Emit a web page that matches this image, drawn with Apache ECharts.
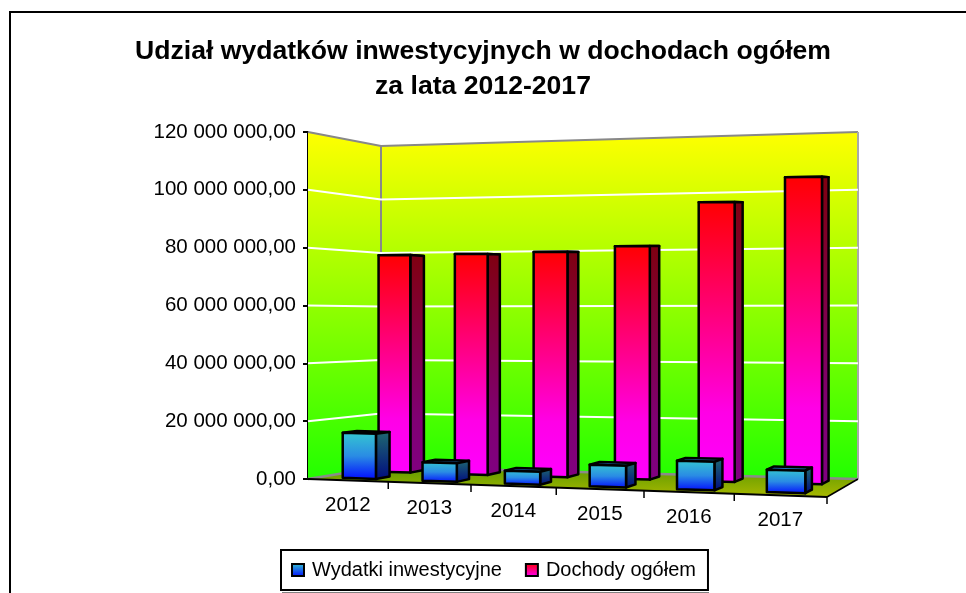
<!DOCTYPE html>
<html>
<head>
<meta charset="utf-8">
<title>Udział wydatków inwestycyjnych w dochodach ogółem</title>
<script src="https://cdn.jsdelivr.net/npm/echarts@6/dist/echarts.min.js"></script>
<style>
  html, body { margin: 0; padding: 0; background: #fff; }
  #chart { width: 966px; height: 593px; }
</style>
</head>
<body>
<div id="chart"></div>
<script>
const years = ['2012', '2013', '2014', '2015', '2016', '2017'];
const wydatki = [15700000, 6400000, 4400000, 7300000, 9500000, 7400000];
const dochody = [78500000, 78800000, 79400000, 81300000, 96300000, 104500000];
const yTicks = [20000000, 40000000, 60000000, 80000000, 100000000];

const FONT = '"Liberation Sans", Arial, sans-serif';
const LinearGradient = echarts.graphic.LinearGradient;

// the picture is an Excel 3D chart: flat grid position (t along the categories, v up the
// value axis) plus a depth d (0 front, 1 back wall) goes through this to screen pixels
function screenX(t, d) {
  return 308 + 73 * d + (474 - 42 * d) * t + 45 * t * t;
}
function screenY(t, d) {
  return 479 + 18 * t - 12 * d - 6 * t * d;
}
function heightAt(t, d) {
  return 347 * (1 - t) * (1 - d) + 369 * t * (1 - d) + 321 * (1 - t) * d + 347 * t * d;
}
function project(cs, gx, gy, d) {
  const t = (gx - cs.x) / cs.width;
  const v = (cs.y + cs.height - gy) / cs.height;
  return [screenX(t, d), screenY(t, d) - v * heightAt(t, d)];
}
function corner(cs, t, v, d) {
  return project(cs, cs.x + t * cs.width, cs.y + cs.height - v * cs.height, d);
}
function vGrad(stops) {
  return new LinearGradient(0, 0, 0, 1, stops.map((c) => ({ offset: c[0], color: c[1] })));
}
function poly(points, style) {
  return { type: 'polygon', shape: { points }, style };
}
function line(points, stroke, lineWidth) {
  return { type: 'polyline', shape: { points }, style: { stroke, lineWidth, fill: 'none' } };
}

function renderWalls(params) {
  const cs = params.coordSys;
  const wall = vGrad([[0, '#ffff00'], [1, '#22ff00']]);
  const fl = corner(cs, 0, 0, 0), fr = corner(cs, 1, 0, 0);
  const bl = corner(cs, 0, 0, 1), br = corner(cs, 1, 0, 1);
  const tl = corner(cs, 0, 1, 0), tb = corner(cs, 0, 1, 1), tr = corner(cs, 1, 1, 1);
  const children = [
    poly([fl, bl, tb, tl], { fill: wall }),
    poly([bl, br, tr, tb], { fill: wall }),
    poly([fl, fr, br, bl], { fill: vGrad([[0, '#5c9a00'], [1, '#a8b800']]) }),
    line([bl, br], '#8a8a8a', 2.5),
    line([fl, bl], '#8a8a8a', 2.5),
    line([tl, tb, tr], '#888888', 2),
    line([tb, bl], '#888888', 2),
    line([tr, br], '#a8a8a8', 2),
    line([fl, fr], '#000000', 2),
    line([fr, br], '#000000', 1.5),
  ];
  // ticks along the sloped front edge, one per category boundary
  for (let i = 1; i <= years.length; i++) {
    const p = corner(cs, i / years.length, 0, 0);
    children.push(line([p, [p[0], p[1] + 7]], '#000000', 1.5));
  }
  return { type: 'group', children };
}

function renderGrid(params, api) {
  const cs = params.coordSys;
  const gy = api.coord([0, api.value(0)])[1];
  return line([
    project(cs, cs.x, gy, 0),
    project(cs, cs.x, gy, 1),
    project(cs, cs.x + cs.width, gy, 1),
  ], '#ffffff', 2);
}

function barRenderer(d1, d2, colors) {
  return function (params, api) {
    const cs = params.coordSys;
    const i = api.value(0);
    const base = api.coord([i, 0]);
    const top = api.coord([i, api.value(1)]);
    const half = api.size([1, 0])[0] * 0.21;
    const lx = base[0] - half, rx = base[0] + half;
    const a = project(cs, lx, base[1], d1), b = project(cs, rx, base[1], d1);
    const c = project(cs, rx, top[1], d1), e = project(cs, lx, top[1], d1);
    const f = project(cs, rx, base[1], d2), g = project(cs, rx, top[1], d2);
    const h = project(cs, lx, top[1], d2);
    const edge = { stroke: '#000000', lineWidth: 2.5, lineJoin: 'round' };
    return {
      type: 'group',
      children: [
        poly([e, c, g, h], { fill: colors.top, ...edge }),
        poly([b, f, g, c], { fill: vGrad(colors.side), ...edge }),
        poly([a, b, c, e], { fill: vGrad(colors.front), ...edge }),
      ],
    };
  };
}

function renderYear(params, api) {
  const cs = params.coordSys;
  const base = api.coord([api.value(0), 0]);
  const p = project(cs, base[0], base[1], 0);
  return {
    type: 'text',
    style: {
      x: p[0], y: p[1] + 25, text: years[api.value(0)],
      fill: '#000000', font: '20.5px ' + FONT, align: 'center', verticalAlign: 'middle',
    },
  };
}

const redFront = [[0, '#ff0000'], [0.75, '#ff00e6'], [1, '#ff00ff']];
const redSide = [[0, '#800010'], [0.75, '#800073'], [1, '#800080']];
const blueFront = [[0, '#35c8d0'], [0.5, '#2a8ce4'], [1, '#0008ff']];
const blueSide = [[0, '#1f6a70'], [1, '#000a80']];

function spaced(value) {
  const text = String(value).replace(/\B(?=(\d{3})+(?!\d))/g, ' ');
  return text + ',00';
}

const chart = echarts.init(document.getElementById('chart'));
chart.setOption({
  animation: false,
  title: {
    text: 'Udział wydatków inwestycyjnych w dochodach ogółem\nza lata 2012-2017',
    left: 'center',
    top: 29,
    textStyle: { fontFamily: FONT, fontSize: 26.6, fontWeight: 'bold', color: '#000', lineHeight: 35 },
  },
  graphic: [
    { type: 'polyline', shape: { points: [[10, 593], [10, 12], [966, 12]] },
      style: { stroke: '#000', lineWidth: 2, fill: 'none' } },
    { type: 'line', shape: { x1: 282, y1: 592.5, x2: 709, y2: 592.5 },
      style: { stroke: '#808080', lineWidth: 1 } },
  ],
  legend: {
    left: 281,
    top: 550,
    padding: [10, 12, 10, 10],
    itemGap: 23,
    itemWidth: 12,
    itemHeight: 12,
    icon: 'rect',
    backgroundColor: '#fff',
    borderColor: '#000',
    borderWidth: 2,
    textStyle: { fontFamily: FONT, fontSize: 20, color: '#000', padding: [0, 0, 0, 3] },
    data: ['Wydatki inwestycyjne', 'Dochody ogółem'],
  },
  grid: { left: 308, top: 132, width: 519, height: 347 },
  xAxis: {
    type: 'category',
    data: years,
    axisLine: { show: false },
    axisTick: { show: false },
    axisLabel: { show: false },
  },
  yAxis: {
    type: 'value',
    min: 0,
    max: 120000000,
    interval: 20000000,
    splitLine: { show: false },
    axisLine: { show: true, lineStyle: { color: '#000', width: 2 } },
    axisTick: { show: true, length: 5, lineStyle: { color: '#000', width: 2 } },
    axisLabel: { fontFamily: FONT, fontSize: 20.5, color: '#000', margin: 12, formatter: spaced },
  },
  series: [
    { type: 'custom', silent: true, z: 1, renderItem: renderWalls, data: [[0, 0]], encode: { x: 0, y: 1 } },
    { type: 'custom', silent: true, z: 2, renderItem: renderGrid, data: yTicks.map((v) => [v]), encode: { y: 0 } },
    {
      name: 'Dochody ogółem',
      type: 'custom',
      z: 3,
      renderItem: barRenderer(0.67, 0.87, { top: '#b00018', side: redSide, front: redFront }),
      itemStyle: { color: vGrad([[0, '#ff0000'], [1, '#ff00ff']]), borderColor: '#000', borderWidth: 2 },
      data: dochody.map((v, i) => [i, v]),
      encode: { x: 0, y: 1 },
    },
    {
      name: 'Wydatki inwestycyjne',
      type: 'custom',
      z: 4,
      renderItem: barRenderer(0.165, 0.365, { top: '#1f78c8', side: blueSide, front: blueFront }),
      itemStyle: { color: vGrad([[0, '#35c8d0'], [1, '#0008ff']]), borderColor: '#000', borderWidth: 2 },
      data: wydatki.map((v, i) => [i, v]),
      encode: { x: 0, y: 1 },
    },
    { type: 'custom', silent: true, z: 5, renderItem: renderYear, data: years.map((y, i) => [i, 0]), encode: { x: 0, y: 1 } },
  ],
});
</script>
</body>
</html>
